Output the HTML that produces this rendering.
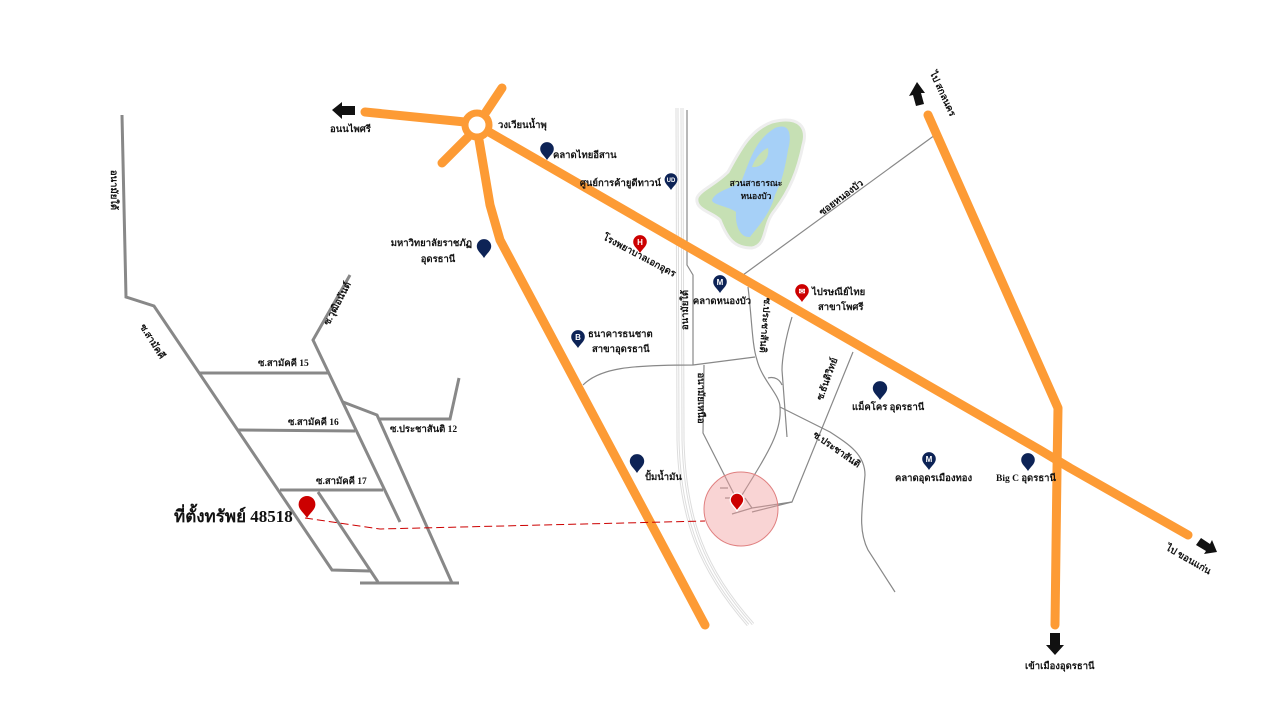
<!DOCTYPE html>
<html><head><meta charset="utf-8"><style>
html,body{margin:0;padding:0;background:#fff;}
svg{display:block;font-family:"Liberation Serif","DejaVu Serif",serif;}
.t{font-size:9.5px;font-weight:bold;fill:#111;}
</style></head><body>
<svg width="1280" height="720" viewBox="0 0 1280 720" xmlns="http://www.w3.org/2000/svg">
<defs>
<path id="pin" d="M0,0 C-3,-5 -8,-8 -8,-13 A8,8 0 1,1 8,-13 C8,-8 3,-5 0,0Z"/>
</defs>
<rect width="1280" height="720" fill="#fff"/>

<!-- lake -->
<path d="M772,122 C800,115 808,128 803,145 C798,170 790,190 775,210 C762,225 768,245 752,248 C735,248 728,240 720,220 C712,212 695,210 697,198 C700,190 715,185 728,172 C740,150 750,130 772,122Z" fill="#c6e0b4" stroke="#eee" stroke-width="3"/>
<path d="M775,128 C790,122 792,135 788,150 C784,175 780,185 775,195 C770,215 755,230 750,237 C740,238 735,225 736,212 C728,206 712,205 712,200 C716,190 735,188 742,180 C750,160 755,140 775,128Z" fill="#a6d0f7"/>
<path d="M752,167 C755,158 762,150 768,148 C770,158 762,168 752,167Z" fill="#c6e0b4"/>

<!-- railway -->
<g fill="none" stroke="#ddd" stroke-width="3">
<path d="M677,108 L678,440 C680,520 700,570 748,625"/>
<path d="M682,108 L683,440 C685,520 705,570 753,624"/>
</g>
<g fill="none" stroke="#fff" stroke-width="1">
<path d="M677,108 L678,440 C680,520 700,570 748,625"/>
<path d="M682,108 L683,440 C685,520 705,570 753,624"/>
</g>

<!-- thin gray roads -->
<g fill="none" stroke="#888" stroke-width="1.2">
<path d="M687,110 L687,265 L693,275 L693,365"/>
<path d="M583,385 C600,368 630,365 693,365 L755,357"/>
<path d="M704,365 L703,433 L737,500"/>
<path d="M748,287 C752,320 752,345 757,360 C762,380 780,395 780,407 C782,430 770,450 742,495"/>
<path d="M768,378 C775,376 780,380 782,385"/>
<path d="M792,317 C785,340 782,360 782,370 L787,437"/>
<path d="M853,352 L792,502 L752,512"/>
<path d="M780,407 L830,432 C850,445 865,455 865,475 C862,510 858,530 868,550 L895,592"/>
<path d="M743,275 L935,135"/>
<path d="M720,488 L728,488 M725,498 L732,498 M745,498 L752,508 L732,514 M752,508 L792,502"/>
</g>

<!-- left gray roads -->
<g fill="none" stroke="#888" stroke-width="3">
<path d="M122,115 L126,297 L154,306 L332,570 L370,571"/>
<path d="M200,373 L328,373"/>
<path d="M350,275 L313,340 L400,522"/>
<path d="M238,430 L355,431"/>
<path d="M280,490 L383,490"/>
<path d="M343,402 L377,415 L452,583"/>
<path d="M378,419 L450,419 L459,378"/>
<path d="M318,492 L378,582"/>
<path d="M360,583 L459,583"/>
</g>

<!-- orange roads -->
<g fill="none" stroke="#fd9b35" stroke-width="9" stroke-linecap="round" stroke-linejoin="round">
<path d="M365,112 L465,122"/>
<path d="M486,112 L502,88"/>
<path d="M468,137 L442,163"/>
<path d="M479,140 L490,205 L500,240 L705,625"/>
<path d="M489,132 L1040,450 C1050,456 1060,462 1070,468 L1188,535"/>
<path d="M928,115 L1058,408 L1057,470 L1055,625"/>
</g>
<circle cx="477" cy="125" r="12" fill="#fff" stroke="#fd9b35" stroke-width="7"/>

<!-- arrows -->
<g fill="#111">
<path d="M332,110 L342,102 L342,106 L355,106 L355,115 L342,115 L342,119Z"/>
<path d="M917,82 L925,93 L921,93 L924,104 L916,106 L913,95 L909,96Z"/>
<path d="M1217,552 L1204,554 L1206,551 L1196,545 L1201,538 L1210,544 L1212,540Z"/>
<path d="M1055,655 L1046,645 L1050,645 L1050,633 L1060,633 L1060,645 L1064,645Z"/>
</g>

<!-- red target -->
<circle cx="741" cy="509" r="37" fill="#f2a0a0" fill-opacity="0.45" stroke="#e08080" stroke-width="1"/>
<path d="M305,518 L380,529 L705,521" fill="none" stroke="#c00" stroke-width="1" stroke-dasharray="8,4"/>
<use href="#pin" transform="translate(737,511) scale(0.85)" fill="#c00" stroke="#fff" stroke-width="1.5"/>
<use href="#pin" transform="translate(307,518) scale(1.05)" fill="#c00"/>

<!-- navy pins -->
<g fill="#0d2356">
<use href="#pin" transform="translate(547,160) scale(0.85)"/>
<use href="#pin" transform="translate(671,190) scale(0.8)"/>
<use href="#pin" transform="translate(484,258) scale(0.9)"/>
<use href="#pin" transform="translate(720,293) scale(0.85)"/>
<use href="#pin" transform="translate(578,348) scale(0.85)"/>
<use href="#pin" transform="translate(637,473) scale(0.9)"/>
<use href="#pin" transform="translate(880,400) scale(0.9)"/>
<use href="#pin" transform="translate(929,470) scale(0.85)"/>
<use href="#pin" transform="translate(1028,471) scale(0.85)"/>
</g>
<g fill="#c00">
<use href="#pin" transform="translate(640,253) scale(0.85)"/>
<use href="#pin" transform="translate(802,302) scale(0.85)"/>
</g>
<g font-family="Liberation Sans,sans-serif" font-weight="bold" fill="#fff" font-size="8" text-anchor="middle">
<text x="640" y="245">H</text>
<text x="720" y="285">M</text>
<text x="929" y="462">M</text>
<text x="578" y="340">B</text>
<text x="671" y="182" font-size="6">UD</text>
<text x="802" y="294">✉</text>
</g>

<!-- labels -->
<g class="t">
<text x="330" y="132">อนนไพศรี</text>
<text x="498" y="128">วงเวียนน้ำพุ</text>
<text x="553" y="158">คลาดไทยอีสาน</text>
<text x="661" y="186" text-anchor="end">ศูนย์การค้ายูดีทาวน์</text>
<text x="472" y="246" text-anchor="end">มหาวิทยาลัยราชภัฏ</text>
<text x="438" y="262" text-anchor="middle">อุดรธานี</text>
<text x="722" y="304" text-anchor="middle">คลาดหนองบัว</text>
<text x="588" y="337">ธนาคารธนชาต</text>
<text x="592" y="352">สาขาอุดรธานี</text>
<text x="812" y="295">ไปรษณีย์ไทย</text>
<text x="818" y="310">สาขาโพศรี</text>
<text x="852" y="410">แม็คโคร อุดรธานี</text>
<text x="895" y="481">คลาดอุดรเมืองทอง</text>
<text x="996" y="481">Big C อุดรธานี</text>
<text x="645" y="480">ปั้มน้ำมัน</text>
<text x="1025" y="669">เข้าเมืองอุดรธานี</text>
<text x="756" y="186" font-size="8.5" text-anchor="middle">สวนสาธารณะ</text>
<text x="756" y="199" font-size="8.5" text-anchor="middle">หนองบัว</text>
<text x="258" y="366">ซ.สามัคคี 15</text>
<text x="288" y="425">ซ.สามัคคี 16</text>
<text x="316" y="484">ซ.สามัคคี 17</text>
<text x="390" y="432">ซ.ประชาสันติ 12</text>
</g>
<text x="174" y="522" font-size="17" font-weight="bold" fill="#111">ที่ตั้งทรัพย์ 48518</text>

<g class="t" font-size="9">
<text transform="translate(111,190) rotate(90)" text-anchor="middle">อนามัยใต้</text>
<text transform="translate(150,343) rotate(58)" text-anchor="middle">ซ.สามัคคี</text>
<text transform="translate(340,305) rotate(-62)" text-anchor="middle">ซ.วุฒิอนันต์</text>
<text transform="translate(638,258) rotate(28)" text-anchor="middle">โรงพยาบาลเอกอุดร</text>
<text transform="translate(688,310) rotate(-90)" text-anchor="middle">อนามัยใต้</text>
<text transform="translate(698,398) rotate(90)" text-anchor="middle">อนามัยเหนือ</text>
<text transform="translate(762,325) rotate(95)" text-anchor="middle">ซ.ประชาสันติ</text>
<text transform="translate(830,380) rotate(-70)" text-anchor="middle">ซ.ธันติวิทย์</text>
<text transform="translate(835,452) rotate(35)" text-anchor="middle">ซ.ประชาสันติ</text>
<text transform="translate(843,200) rotate(-37)" text-anchor="middle">ซอยหนองบัว</text>
<text transform="translate(940,95) rotate(65)" text-anchor="middle">ไป สกลนคร</text>
<text transform="translate(1187,562) rotate(30)" text-anchor="middle">ไป ขอนแก่น</text>
</g>
</svg>
</body></html>
